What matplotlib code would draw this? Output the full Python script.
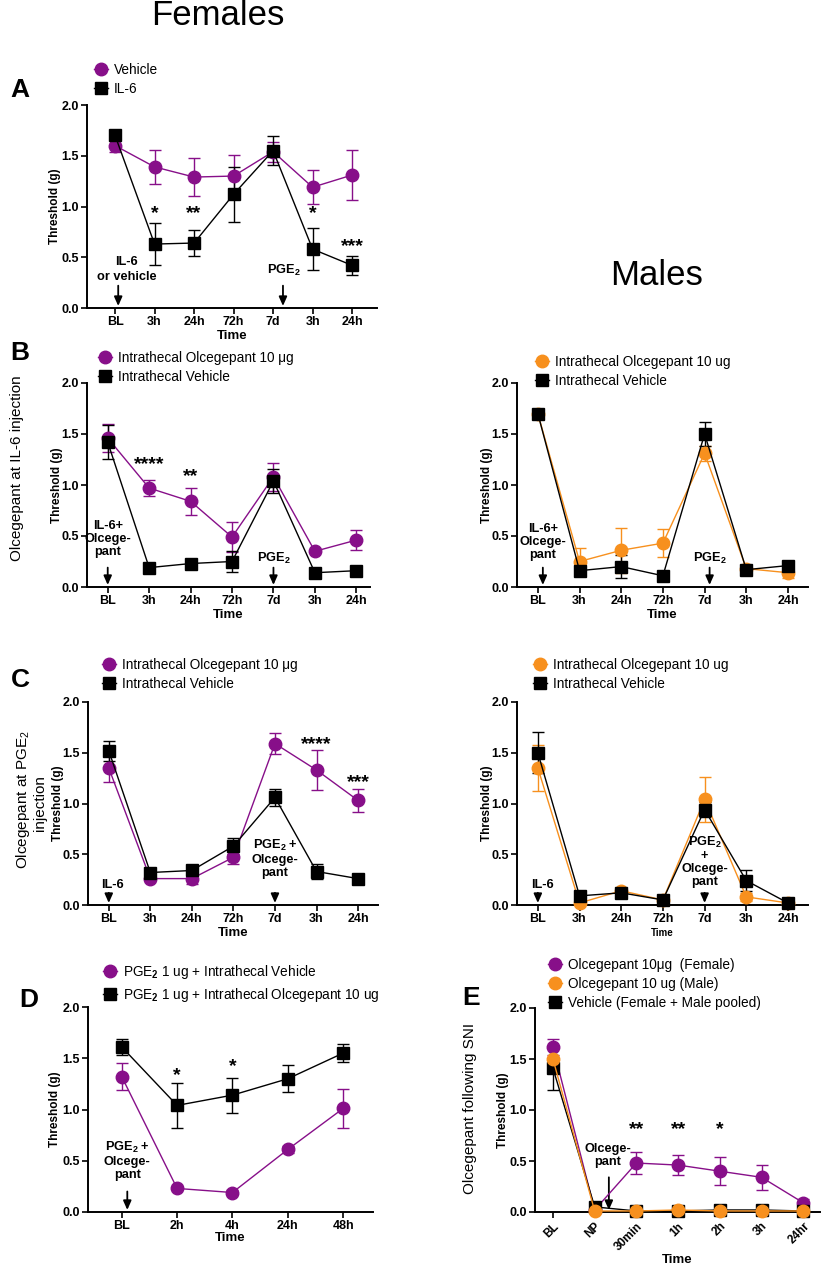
import numpy as np
import matplotlib
matplotlib.use("Agg")
import matplotlib.pyplot as plt
from matplotlib.lines import Line2D

plt.rcParams["font.family"] = ["Liberation Sans", "DejaVu Sans"]
plt.rcParams["mathtext.fontset"] = "custom"
plt.rcParams["mathtext.rm"] = "Liberation Sans"
plt.rcParams["mathtext.bf"] = "Liberation Sans:bold"

PURPLE = "#870f89"
ORANGE = "#f7901e"

# ---- data ----
time7 = ["BL", "3h", "24h", "72h", "7d", "3h", "24h"]

a_veh = [1.60, 1.39, 1.29, 1.30, 1.54, 1.19, 1.31]
a_veh_err = [0.06, 0.17, 0.19, 0.21, 0.10, 0.17, 0.25]
a_il6 = [1.70, 0.63, 0.64, 1.12, 1.55, 0.58, 0.42]
a_il6_err = [0.04, 0.21, 0.13, 0.27, 0.14, 0.21, 0.09]

bf_olc = [1.46, 0.97, 0.84, 0.49, 1.08, 0.35, 0.46]
bf_olc_err = [0.14, 0.08, 0.13, 0.15, 0.14, 0.02, 0.10]
bf_veh = [1.42, 0.19, 0.23, 0.25, 1.04, 0.14, 0.16]
bf_veh_err = [0.17, 0.03, 0.02, 0.10, 0.12, 0.02, 0.02]

bm_olc = [1.70, 0.25, 0.36, 0.43, 1.31, 0.18, 0.14]
bm_olc_err = [0.01, 0.13, 0.22, 0.14, 0.07, 0.02, 0.05]
bm_veh = [1.70, 0.16, 0.20, 0.11, 1.50, 0.17, 0.21]
bm_veh_err = [0.01, 0.04, 0.11, 0.02, 0.12, 0.02, 0.03]

cf_olc = [1.35, 0.26, 0.26, 0.47, 1.59, 1.33, 1.03]
cf_olc_err = [0.14, 0.02, 0.05, 0.07, 0.10, 0.20, 0.11]
cf_veh = [1.52, 0.32, 0.34, 0.58, 1.06, 0.33, 0.26]
cf_veh_err = [0.10, 0.03, 0.03, 0.08, 0.08, 0.07, 0.03]

cm_olc = [1.35, 0.02, 0.14, 0.05, 1.04, 0.08, 0.02]
cm_olc_err = [0.23, 0.01, 0.02, 0.02, 0.22, 0.04, 0.01]
cm_veh = [1.50, 0.09, 0.12, 0.05, 0.94, 0.24, 0.02]
cm_veh_err = [0.20, 0.03, 0.03, 0.02, 0.07, 0.10, 0.01]

time_d = ["BL", "2h", "4h", "24h", "48h"]
d_veh = [1.32, 0.23, 0.19, 0.61, 1.01]
d_veh_err = [0.13, 0.02, 0.02, 0.03, 0.19]
d_olc = [1.61, 1.04, 1.14, 1.30, 1.55]
d_olc_err = [0.08, 0.22, 0.17, 0.13, 0.09]

time_e = ["BL", "NP", "30min", "1h", "2h", "3h", "24hr"]
e_fem = [1.62, 0.02, 0.48, 0.46, 0.40, 0.34, 0.09]
e_fem_err = [0.08, 0.01, 0.11, 0.10, 0.14, 0.12, 0.04]
e_male = [1.50, 0.01, 0.01, 0.02, 0.01, 0.01, 0.01]
e_male_err = [0.13, 0.01, 0.01, 0.01, 0.01, 0.01, 0.01]
e_veh = [1.41, 0.05, 0.01, 0.01, 0.02, 0.02, 0.01]
e_veh_err = [0.21, 0.02, 0.01, 0.01, 0.01, 0.01, 0.01]

W, H = 825, 1267
fig = plt.figure(figsize=(W / 100, H / 100), dpi=100)


def make_ax(x0, x1, yt, yb, xlim, labels, ylab_x, rot=False):
    ax = fig.add_axes([x0 / W, 1 - yb / H, (x1 - x0) / W, (yb - yt) / H])
    ax.set_ylim(0, 2.0)
    ax.set_xlim(*xlim)
    for s in ["top", "right"]:
        ax.spines[s].set_visible(False)
    for s in ["left", "bottom"]:
        ax.spines[s].set_linewidth(1.4)
    ax.set_yticks([0, 0.5, 1.0, 1.5, 2.0])
    ax.set_yticklabels(["0.0", "0.5", "1.0", "1.5", "2.0"], fontweight="bold", fontsize=9)
    ax.set_xticks(range(len(labels)))
    if rot:
        ax.set_xticklabels(labels, fontweight="bold", fontsize=8.5, rotation=45,
                           ha="right", rotation_mode="anchor")
    else:
        ax.set_xticklabels(labels, fontweight="bold", fontsize=9)
    ax.tick_params(width=1.2, length=4, pad=2)
    ax.set_ylabel("Threshold (g)", fontweight="bold", fontsize=8.5)
    ax.yaxis.set_label_coords(ylab_x / W, 1 - (yt + yb) / 2 / H, transform=fig.transFigure)
    ax.patch.set_alpha(0)
    return ax


def series(ax, y, err, color, marker):
    x = np.arange(len(y))
    ax.errorbar(x, y, yerr=err, color=color, marker=marker, ms=9, lw=1.0,
                capsize=4, elinewidth=1.0, capthick=1.0, clip_on=False, zorder=3)


def legend(ax, entries, px, py):
    handles = [Line2D([0], [0], color=c, marker=m, ms=9, lw=1.0) for c, m, _ in entries]
    labels = [t for _, _, t in entries]
    ax.legend(handles, labels, loc="upper left", bbox_to_anchor=(px / W, 1 - py / H),
              bbox_transform=fig.transFigure, frameon=False, fontsize=9.8,
              handlelength=1.0, handletextpad=0.45, labelspacing=0.35,
              borderpad=0, borderaxespad=0)


def arrow(ax, x, y0, y1=0.02):
    ax.annotate("", xy=(x, y1), xytext=(x, y0),
                arrowprops=dict(arrowstyle="-|>,head_length=0.45,head_width=0.2",
                                color="k", lw=1.3, mutation_scale=12,
                                shrinkA=0, shrinkB=0))


def note(ax, x, y, s, ls=1.2):
    ax.text(x, y, s, ha="center", va="center", fontweight="bold", fontsize=9.2,
            linespacing=ls)


def stars(ax, x, y, s):
    ax.text(x, y, s, ha="center", va="center", fontweight="bold", fontsize=14)


PGE2 = r"PGE$_\mathbf{2}$"

fig.text(218 / W, 1 - 25 / H, "Females", fontsize=25, ha="center", va="baseline")
fig.text(657 / W, 1 - 285 / H, "Males", fontsize=25, ha="center", va="baseline")

# ---- A ----
ax = make_ax(87, 377, 105, 308, (-0.71, 6.63), time7, 61)
series(ax, a_veh, a_veh_err, PURPLE, "o")
series(ax, a_il6, a_il6_err, "k", "s")
ax.set_xlabel("Time", fontweight="bold", fontsize=9.5, labelpad=1)
legend(ax, [(PURPLE, "o", "Vehicle"), ("k", "s", "IL-6")], 94, 63)
note(ax, 0.3, 0.38, "IL-6\nor vehicle", 1.3)
arrow(ax, 0.08, 0.22)
note(ax, 4.27, 0.37, PGE2)
arrow(ax, 4.25, 0.22)
stars(ax, 1, 0.93, "*")
stars(ax, 2, 0.93, "**")
stars(ax, 5, 0.93, "*")
stars(ax, 6, 0.61, "***")
fig.text(20 / W, 1 - 97 / H, "A", fontsize=19, fontweight="bold", ha="center", va="baseline")

# ---- B female ----
ax = make_ax(87, 370, 383, 587, (-0.5, 6.33), time7, 63)
series(ax, bf_olc, bf_olc_err, PURPLE, "o")
series(ax, bf_veh, bf_veh_err, "k", "s")
ax.set_xlabel("Time", fontweight="bold", fontsize=9.5, labelpad=1)
legend(ax, [(PURPLE, "o", "Intrathecal Olcegepant 10 μg"), ("k", "s", "Intrathecal Vehicle")], 98, 351)
note(ax, 0, 0.47, "IL-6+\nOlcege-\npant", 1.1)
arrow(ax, 0, 0.19)
note(ax, 4, 0.28, PGE2)
arrow(ax, 4, 0.19)
stars(ax, 1, 1.20, "****")
stars(ax, 2, 1.08, "**")
fig.text(20 / W, 1 - 360 / H, "B", fontsize=19, fontweight="bold", ha="center", va="baseline")
fig.text(17 / W, 1 - 468 / H, "Olcegepant at IL-6 injection", fontsize=11,
         rotation=90, ha="center", va="center")

# ---- B male ----
ax = make_ax(517, 808, 383, 587, (-0.5, 6.48), time7, 493)
series(ax, bm_olc, bm_olc_err, ORANGE, "o")
series(ax, bm_veh, bm_veh_err, "k", "s")
ax.set_xlabel("Time", fontweight="bold", fontsize=9.5, labelpad=1)
legend(ax, [(ORANGE, "o", "Intrathecal Olcegepant 10 ug"), ("k", "s", "Intrathecal Vehicle")], 535, 355)
note(ax, 0.12, 0.44, "IL-6+\nOlcege-\npant", 1.1)
arrow(ax, 0.12, 0.19)
note(ax, 4.12, 0.28, PGE2)
arrow(ax, 4.12, 0.19)

# ---- C female ----
ax = make_ax(88, 378, 702, 905, (-0.5, 6.48), time7, 64)
series(ax, cf_olc, cf_olc_err, PURPLE, "o")
series(ax, cf_veh, cf_veh_err, "k", "s")
ax.set_xlabel("Time", fontweight="bold", fontsize=9.5, labelpad=1)
legend(ax, [(PURPLE, "o", "Intrathecal Olcegepant 10 μg"), ("k", "s", "Intrathecal Vehicle")], 102, 658)
note(ax, 0.1, 0.2, "IL-6")
arrow(ax, 0, 0.12)
note(ax, 4, 0.46, PGE2 + " +\nOlcege-\npant", 1.1)
arrow(ax, 4, 0.12)
stars(ax, 5, 1.58, "****")
stars(ax, 6, 1.21, "***")
fig.text(20 / W, 1 - 687 / H, "C", fontsize=19, fontweight="bold", ha="center", va="baseline")
fig.text(23 / W, 1 - 800 / H, "Olcegepant at PGE$_2$", fontsize=11,
         rotation=90, ha="center", va="center")
fig.text(40 / W, 1 - 803 / H, "injection", fontsize=11,
         rotation=90, ha="center", va="center")

# ---- C male ----
ax = make_ax(517, 808, 702, 905, (-0.5, 6.48), time7, 493)
series(ax, cm_olc, cm_olc_err, ORANGE, "o")
series(ax, cm_veh, cm_veh_err, "k", "s")
ax.set_xlabel("Time", fontweight="bold", fontsize=7, labelpad=2)
legend(ax, [(ORANGE, "o", "Intrathecal Olcegepant 10 ug"), ("k", "s", "Intrathecal Vehicle")], 533, 658)
note(ax, 0.12, 0.2, "IL-6")
arrow(ax, 0, 0.12)
note(ax, 4, 0.43, PGE2 + "\n+\nOlcege-\npant", 1.1)
arrow(ax, 4, 0.12)

# ---- D ----
ax = make_ax(88, 373, 1007, 1212, (-0.61, 4.54), time_d, 61)
series(ax, d_veh, d_veh_err, PURPLE, "o")
series(ax, d_olc, d_olc_err, "k", "s")
ax.set_xlabel("Time", fontweight="bold", fontsize=9.5, labelpad=0)
legend(ax, [(PURPLE, "o", PGE2 + " 1 ug + Intrathecal Vehicle"),
            ("k", "s", PGE2 + " 1 ug + Intrathecal Olcegepant 10 ug")], 103, 963)
note(ax, 0.1, 0.5, PGE2 + " +\nOlcege-\npant", 1.1)
arrow(ax, 0.1, 0.2)
stars(ax, 1, 1.33, "*")
stars(ax, 2, 1.42, "*")
fig.text(29 / W, 1 - 1007 / H, "D", fontsize=19, fontweight="bold", ha="center", va="baseline")

# ---- E ----
ax = make_ax(535, 820, 1008, 1212, (-0.43, 6.4), time_e, 509, rot=True)
series(ax, e_fem, e_fem_err, PURPLE, "o")
series(ax, e_veh, e_veh_err, "k", "s")
series(ax, e_male, e_male_err, ORANGE, "o")
ax.set_xlabel("Time", fontweight="bold", fontsize=9.5, labelpad=1)
legend(ax, [(PURPLE, "o", "Olcegepant 10μg  (Female)"),
            (ORANGE, "o", "Olcegepant 10 ug (Male)"),
            ("k", "s", "Vehicle (Female + Male pooled)")], 548, 958)
note(ax, 1.32, 0.55, "Olcege-\npant", 1.1)
arrow(ax, 1.34, 0.34)
stars(ax, 2, 0.81, "**")
stars(ax, 3, 0.81, "**")
stars(ax, 4, 0.81, "*")
fig.text(471 / W, 1 - 1005 / H, "E", fontsize=19, fontweight="bold", ha="center", va="baseline")
fig.text(470 / W, 1 - 1108 / H, "Olcegepant following SNI", fontsize=11,
         rotation=90, ha="center", va="center")

fig.savefig("out.png", dpi=100)
